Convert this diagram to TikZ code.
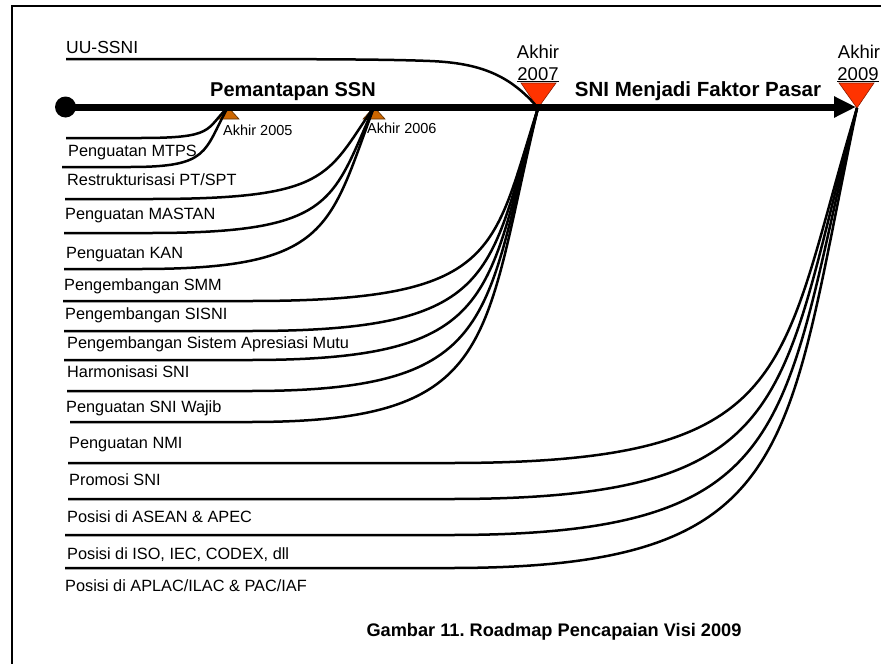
\documentclass[tikz,border=0pt]{standalone}
\usepackage{fontspec}
\setmainfont{Liberation Sans}
\usetikzlibrary{arrows.meta}
\definecolor{orng}{RGB}{204,102,0}
\definecolor{redtri}{RGB}{255,51,0}
\frenchspacing
\begin{document}
\begin{tikzpicture}[x=1pt,y=-1pt,
  lbl/.style={anchor=base west, inner sep=0pt, font=\fontsize{16.3}{18}\selectfont},
  small/.style={anchor=base west, inner sep=0pt, font=\fontsize{14.5}{16}\selectfont},
  yr/.style={anchor=base, inner sep=0pt, font=\fontsize{18.5}{20}\selectfont},
  phase/.style={anchor=base, inner sep=0pt, font=\bfseries\fontsize{20.5}{22}\selectfont},
  curve/.style={line width=2.5pt, black},
  frameline/.style={line width=2.4pt, black},
  uptri/.style={fill=orng, draw=black!55!orng, line width=0.6pt},
  downtri/.style={fill=redtri, draw=black!45!redtri, line width=0.6pt}]
\useasboundingbox (0,0) rectangle (881,664);
% frame
\draw[frameline] (12,664) -- (12,6) -- (881,6);
% milestone markers
\coordinate (a05) at (228,107);
\coordinate (a06) at (374,107);
\coordinate (a07) at (538,108);
\coordinate (a09) at (857,108);
\draw[uptri] (a05) -- (239,119) -- (217,119) -- cycle;
\draw[uptri] (a06) -- (385,119) -- (363,119) -- cycle;
\draw[downtri] (521,83) -- (556,83) -- (a07) -- cycle;
\draw[downtri] (839,83) -- (874,83) -- (a09) -- cycle;
% timeline
\node[circle, fill=black, inner sep=0pt, minimum size=21pt] (dot) at (65.5,107) {};
\coordinate (tip) at (856,107);
\draw[line width=7pt, -{Triangle[length=22pt,width=20pt]}] (dot.center) -- (tip);
% start points
\coordinate (su) at (66,59);
\coordinate (s1) at (66,138);
\coordinate (s2) at (62,167);
\coordinate (s3) at (65,199);
\coordinate (s4) at (64,233);
\coordinate (s5) at (64,269);
\coordinate (s6) at (63,301);
\coordinate (s7) at (64,331);
\coordinate (s8) at (64,360);
\coordinate (s9) at (67,391);
\coordinate (s10) at (70,422);
\coordinate (s11) at (68,463);
\coordinate (s12) at (68,499);
\coordinate (s13) at (65,535);
\coordinate (s14) at (65,568);
% UU-SSNI curve
\draw[curve] (su) .. controls (300,59) and (380,59) .. (430,61) .. controls (480,63) and (510,75) .. (a07);
% to Akhir 2005
\draw[curve] (s1) -- (140,138) .. controls (215,138) and (205,130) .. (a05);
\draw[curve] (s2) -- (130,167) .. controls (210,167) and (203.2,152) .. (a05);
% to Akhir 2006
\draw[curve] (s3) -- (150,199) .. controls (330,199) and (326,176) .. (a06);
\draw[curve] (s4) -- (150,233) .. controls (335,233) and (331.5,201.5) .. (a06);
\draw[curve] (s5) -- (140,269) .. controls (330,269) and (329,228.5) .. (a06);
% to Akhir 2007
\draw[curve] (s6) -- (250,301) .. controls (500,301) and (491.6,253) .. (a07);
\draw[curve] (s7) -- (250,331) .. controls (500,331) and (487.9,275) .. (a07);
\draw[curve] (s8) -- (250,360) .. controls (500,360) and (485.1,297) .. (a07);
\draw[curve] (s9) -- (250,391) .. controls (500,391) and (482.9,320) .. (a07);
\draw[curve] (s10) -- (250,422) .. controls (500,422) and (481.6,343) .. (a07);
% to Akhir 2009
\draw[curve] (s11) -- (450,463) .. controls (800,463) and (777,374) .. (a09);
\draw[curve] (s12) -- (450,499) .. controls (800,499) and (777.9,401) .. (a09);
\draw[curve] (s13) -- (450,535) .. controls (800,535) and (780.2,428) .. (a09);
\draw[curve] (s14) -- (450,568) .. controls (800,568) and (784.5,453) .. (a09);
% texts
\node[lbl, font=\fontsize{17.5}{19}\selectfont] (tuu) at (66,53.3) {UU-SSNI};
\node[phase, font=\bfseries\fontsize{20}{22}\selectfont] (tp1) at (293,96.7) {Pemantapan SSN};
\node[phase] (tp2) at (698,96) {SNI Menjadi Faktor Pasar};
\node[small] (t05) at (223,135) {Akhir 2005};
\node[small] (t06) at (367,133.5) {Akhir 2006};
\node[yr] (t07a) at (538,58.3) {Akhir};
\node[yr] (t07b) at (538,80) {\underline{2007}};
\node[yr] (t09a) at (859,58.3) {Akhir};
\node[yr] (t09b) at (858,80) {\underline{2009}};
\node[lbl] (l1) at (68,156.7) {Penguatan MTPS};
\node[lbl] (l2) at (67,185.7) {Restrukturisasi PT/SPT};
\node[lbl] (l3) at (65,219.3) {Penguatan MASTAN};
\node[lbl] (l4) at (66,258.3) {Penguatan KAN};
\node[lbl] (l5) at (64,290.7) {Pengembangan SMM};
\node[lbl] (l6) at (65,319.3) {Pengembangan SISNI};
\node[lbl] (l7) at (67,348.3) {Pengembangan Sistem Apresiasi Mutu};
\node[lbl] (l8) at (67,377.3) {Harmonisasi SNI};
\node[lbl] (l9) at (66,412.3) {Penguatan SNI Wajib};
\node[lbl] (l10) at (69,448.3) {Penguatan NMI};
\node[lbl] (l11) at (69,485.7) {Promosi SNI};
\node[lbl] (l12) at (67,522.7) {Posisi di ASEAN \& APEC};
\node[lbl] (l13) at (67,559) {Posisi di ISO, IEC, CODEX, dll};
\node[lbl] (l14) at (65,591) {Posisi di APLAC/ILAC \& PAC/IAF};
\node[anchor=base, inner sep=0pt, font=\bfseries\fontsize{18.2}{20}\selectfont] (cap) at (554,636.5) {Gambar 11. Roadmap Pencapaian Visi 2009};
\end{tikzpicture}
\end{document}
